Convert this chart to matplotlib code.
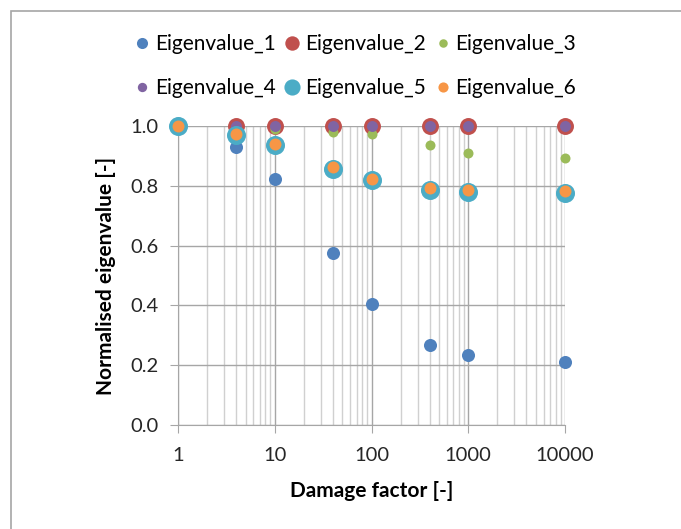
import numpy as np
import matplotlib.pyplot as plt
from matplotlib.ticker import LogLocator, FixedLocator, FuncFormatter
from matplotlib.patches import Rectangle

plt.rcParams['font.family'] = ['Lato', 'DejaVu Sans']

# damage factor values
damage = [1, 4, 10, 40, 100, 400, 1000, 10000]

# normalised eigenvalues per mode
eig_1 = [1.0, 0.931, 0.823, 0.575, 0.405, 0.267, 0.233, 0.21]
eig_2 = [1.0, 1.0, 1.0, 1.0, 1.0, 1.0, 1.0, 1.0]
eig_3 = [1.0, 0.995, 0.99, 0.981, 0.972, 0.936, 0.911, 0.893]
eig_4 = [1.0, 1.0, 1.0, 1.0, 1.0, 1.0, 1.0, 1.0]
eig_5 = [1.0, 0.969, 0.936, 0.857, 0.818, 0.786, 0.780, 0.776]
eig_6 = [1.0, 0.972, 0.94, 0.862, 0.822, 0.793, 0.786, 0.782]

names = ['Eigenvalue_1', 'Eigenvalue_2', 'Eigenvalue_3',
         'Eigenvalue_4', 'Eigenvalue_5', 'Eigenvalue_6']
colors = ['#4F81BD', '#C0504D', '#9BBB59', '#8064A2', '#4BACC6', '#F79646']
sizes = [9.4, 12.2, 7.2, 7.9, 13.7, 8.6]

fig = plt.figure(figsize=(6.81, 5.29), dpi=100)
ax = fig.add_axes([178/681, 1-425/529, (565-178)/681, (425-126)/529])

series = [eig_1, eig_2, eig_3, eig_4, eig_5, eig_6]
handles = []
for vals, name, c, ms in zip(series, names, colors, sizes):
    h, = ax.plot(damage, vals, 'o', color=c, markersize=ms, markeredgewidth=0,
                 label=name, clip_on=False, zorder=3)
    handles.append(h)

ax.set_xscale('log')
ax.set_xlim(1, 10000)
ax.set_ylim(0, 1.0)
ax.xaxis.set_major_locator(FixedLocator([1, 10, 100, 1000, 10000]))
ax.xaxis.set_major_formatter(FuncFormatter(lambda v, p: '%d' % v))
ax.xaxis.set_minor_locator(LogLocator(base=10, subs=np.arange(2, 10)))
ax.xaxis.set_minor_formatter(FuncFormatter(lambda v, p: ''))
ax.set_yticks(np.arange(0, 1.01, 0.2))
ax.yaxis.set_major_formatter(FuncFormatter(lambda v, p: '%.1f' % v))

ax.grid(which='major', color='#a6a6a6', linewidth=1.0)
ax.grid(which='minor', axis='x', color='#d0d0d0', linewidth=1.0)
ax.set_axisbelow(True)
for s in ['top', 'right']:
    ax.spines[s].set_visible(False)
for s in ['left', 'bottom']:
    ax.spines[s].set_color('#a6a6a6')
ax.tick_params(which='major', length=6, color='#a6a6a6', labelsize=14.5,
               labelcolor='#262626')
ax.tick_params(axis='x', pad=10)
ax.tick_params(axis='y', pad=8)
ax.tick_params(which='minor', length=0)

ax.set_xlabel('Damage factor [-]', fontsize=15, fontweight='bold', labelpad=12)
ax.set_ylabel('Normalised eigenvalue [-]', fontsize=15, fontweight='bold', labelpad=10)

# legend in two rows, filled row by row
order = [0, 3, 1, 4, 2, 5]
fig.legend([handles[i] for i in order], [names[i] for i in order],
           ncol=3, loc='center', bbox_to_anchor=(356/681, 1-66/529),
           frameon=False, fontsize=15, handlelength=0.6, handletextpad=0.32,
           columnspacing=0.5, labelspacing=1.15, markerscale=0.85)

# chart area frame
fig.patches.append(Rectangle((11/681, -0.1), 1.2, 1-11/529+0.1,
                             transform=fig.transFigure, fill=False,
                             edgecolor='#a6a6a6', linewidth=1.2))

fig.savefig('out.png', dpi=100)
